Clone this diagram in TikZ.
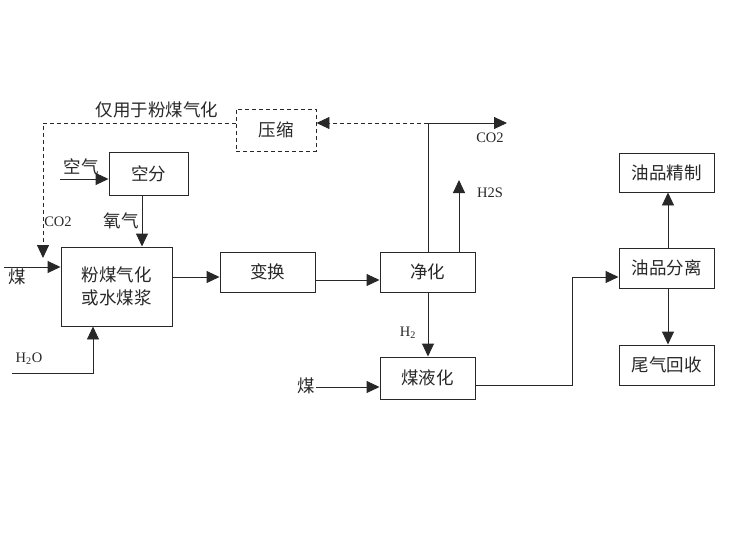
\documentclass[tikz,border=0pt]{standalone}
\usepackage{fontspec}
\setmainfont{Noto Sans CJK SC}
\newfontfamily\lat{Liberation Serif}
\usetikzlibrary{arrows.meta}
\definecolor{ink}{RGB}{40,40,40}
\begin{document}
\begin{tikzpicture}[x=1pt,y=-1pt,
  line width=0.95pt, draw=ink, text=ink,
  box/.style={draw=ink,line width=0.95pt,minimum width=95pt,minimum height=40pt,inner sep=0pt,font=\fontsize{17.5}{20}\selectfont},
  arr/.style={-{Triangle[length=13pt,width=12pt]}},
  dsh/.style={dash pattern=on 4pt off 3pt},
  cjk/.style={font=\fontsize{17.5}{20}\selectfont,inner sep=0pt},
  lab/.style={font=\lat\fontsize{14.5}{16}\selectfont,inner sep=0pt}]
\useasboundingbox[fill=white] (0,0) rectangle (732,549);
% boxes
\node[box,dsh,minimum width=80pt,minimum height=42pt] (compress) at (276,130) {压缩};
\node[box,minimum width=79pt,minimum height=43pt] (kongfen) at (148.5,173.5) {空分};
\node[box,minimum width=111pt,minimum height=79pt,align=center] (gasifier) at (116.5,286.5) {粉煤气化\\[3pt]或水煤浆};
\node[box] (bianhuan) at (267.5,272) {变换};
\node[box] (jinghua) at (427.5,272) {净化};
\node[box,minimum height=42pt] (yehua) at (427.5,378) {煤液化};
\node[box,minimum height=39pt] (jingzhi) at (666.5,172.5) {油品精制};
\node[box] (fenli) at (666.5,268) {油品分离};
\node[box] (weiqi) at (666.5,365) {尾气回收};
% free-end coordinates
\coordinate (coalA) at (4,267);
\coordinate (airA) at (60,179);
\coordinate (h2oA) at (12,373);
\coordinate (h2oB) at (93,373);
\coordinate (junc) at (428,123);
\coordinate (co2end) at (507,123);
\coordinate (h2send) at (459,180);
\coordinate (recycA) at (43,123);
\coordinate (recycB) at (43,258);
\coordinate (coalB) at (316,387);
\coordinate (bendA) at (572,385);
\coordinate (bendB) at (572,277);
% labels
\node[cjk] (lblonly) at (157,110) {仅用于粉煤气化};
\node[cjk] (lblair) at (81,167) {空气};
\node[cjk] (lblo2) at (121,221) {氧气};
\node[lab] (lblco2a) at (58,222) {CO2};
\node[cjk] (lblcoalA) at (17,277) {煤};
\node[lab] (lblh2o) at (29,359) {H\textsubscript{2}O};
\node[cjk] (lblcoalB) at (306,386) {煤};
\node[lab] (lblh2) at (408,333) {H\textsubscript{2}};
\node[lab] (lblco2b) at (490,138) {CO2};
\node[lab] (lblh2s) at (490,193) {H2S};
% connectors
\draw[arr] (coalA) -- (coalA -| gasifier.west);
\draw[arr] (airA) -- (airA -| kongfen.west);
\draw[arr] (kongfen.south -| 142,0) -- (gasifier.north -| 142,0);
\draw[arr] (h2oA) -- (h2oB) -- (gasifier.south -| h2oB);
\draw[arr] (gasifier.east |- 0,277) -- (bianhuan.west |- 0,277);
\draw[arr] (bianhuan.east |- 0,280) -- (jinghua.west |- 0,280);
\draw[arr] (jinghua.south -| junc) -- (yehua.north -| junc);
\draw[arr] (jinghua.north -| junc) -- (junc) -- (co2end);
\draw[arr,dsh] (junc) -- (compress.east |- junc);
\draw[arr] (jinghua.north -| h2send) -- (h2send);
\draw[arr,dsh] (compress.west |- recycA) -- (recycA) -- (recycB);
\draw[arr] (coalB) -- (coalB -| yehua.west);
\draw[arr] (yehua.east |- bendA) -- (bendA) -- (bendB) -- (bendB -| fenli.west);
\draw[arr] (fenli.north -| 668,0) -- (jingzhi.south -| 668,0);
\draw[arr] (fenli.south -| 668,0) -- (weiqi.north -| 668,0);
\end{tikzpicture}
\end{document}
